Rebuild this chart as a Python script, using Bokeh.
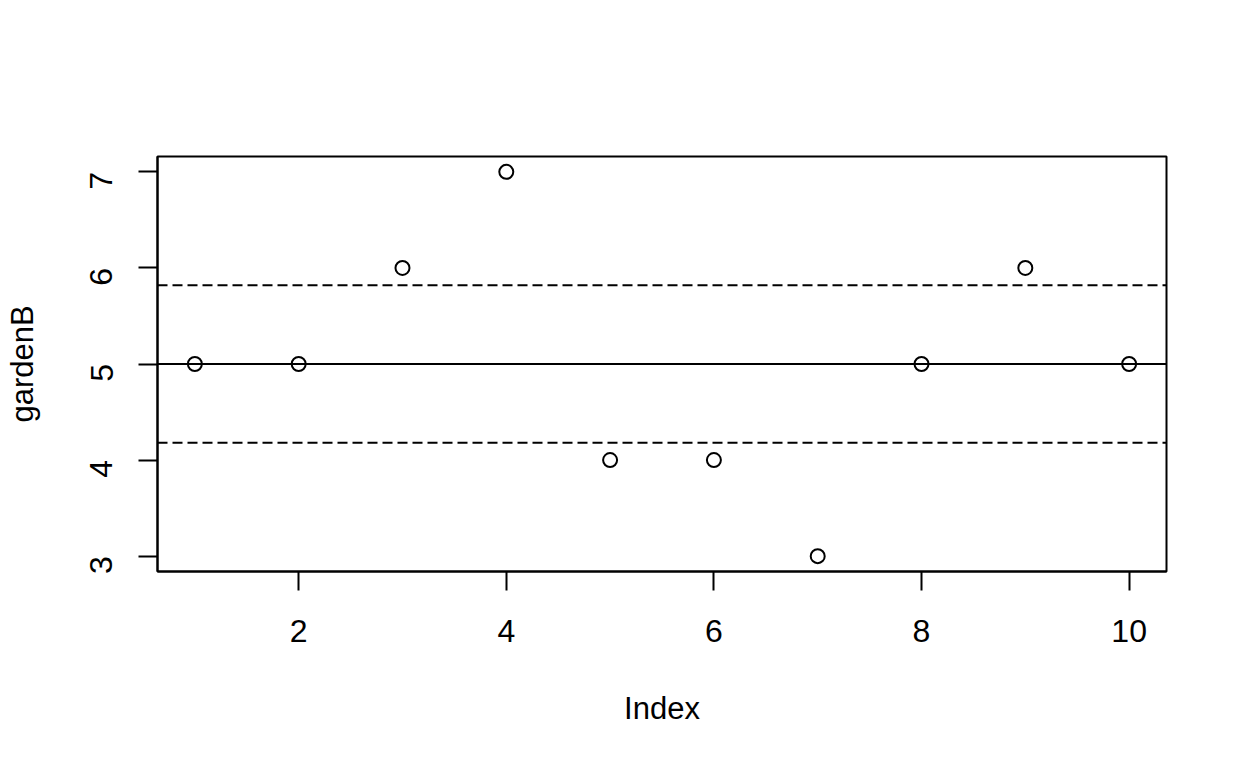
from bokeh.plotting import figure
from bokeh.models import Span, FixedTicker, Range1d, ColumnDataSource
from bokeh.embed import file_html
from bokeh.resources import INLINE
import math

index = [1, 2, 3, 4, 5, 6, 7, 8, 9, 10]
gardenB = [5, 5, 6, 7, 4, 4, 3, 5, 6, 5]
center_line = 5.0
upper_line = 5.82
lower_line = 4.18
x_ticks = [2, 4, 6, 8, 10]
y_ticks = [3, 4, 5, 6, 7]

FONT = "Liberation Sans"

p = figure(width=1232, height=752, output_backend="svg", toolbar_location=None,
           x_range=Range1d(0.64, 10.36), y_range=Range1d(2.84, 7.16),
           min_border_left=157, min_border_right=66, min_border_top=156, min_border_bottom=181)
p.background_fill_color = "white"
p.border_fill_color = "white"
p.outline_line_color = "black"
p.outline_line_width = 2
p.xgrid.visible = False
p.ygrid.visible = False

src = ColumnDataSource(dict(x=index, y=gardenB))
p.scatter("x", "y", source=src, size=14, fill_color=None, line_color="black", line_width=2)

p.add_layout(Span(location=center_line, dimension="width", line_color="black", line_width=2))
for loc in (upper_line, lower_line):
    p.add_layout(Span(location=loc, dimension="width", line_color="black", line_width=2, line_dash="10 5"))

for ax in (p.xaxis[0], p.yaxis[0]):
    ax.axis_line_width = 2
    ax.major_tick_line_width = 2
    ax.major_tick_out = 19
    ax.major_tick_in = 0
    ax.minor_tick_out = 0
    ax.minor_tick_in = 0
    ax.major_label_text_font = FONT
    ax.major_label_text_font_size = "32px"
    ax.major_label_text_color = "black"
    ax.axis_label_text_font = FONT
    ax.axis_label_text_font_size = "31px"
    ax.axis_label_text_font_style = "normal"
    ax.axis_label_text_color = "black"

p.xaxis[0].ticker = FixedTicker(ticks=x_ticks)
p.yaxis[0].ticker = FixedTicker(ticks=y_ticks)
p.xaxis[0].axis_label = "Index"
p.yaxis[0].axis_label = "gardenB"
p.xaxis[0].major_label_standoff = 29
p.xaxis[0].axis_label_standoff = 46
p.yaxis[0].major_label_orientation = math.pi / 2
p.yaxis[0].major_label_standoff = 37
p.yaxis[0].axis_label_standoff = 37

open("out.html", "w").write(file_html(p, INLINE))
